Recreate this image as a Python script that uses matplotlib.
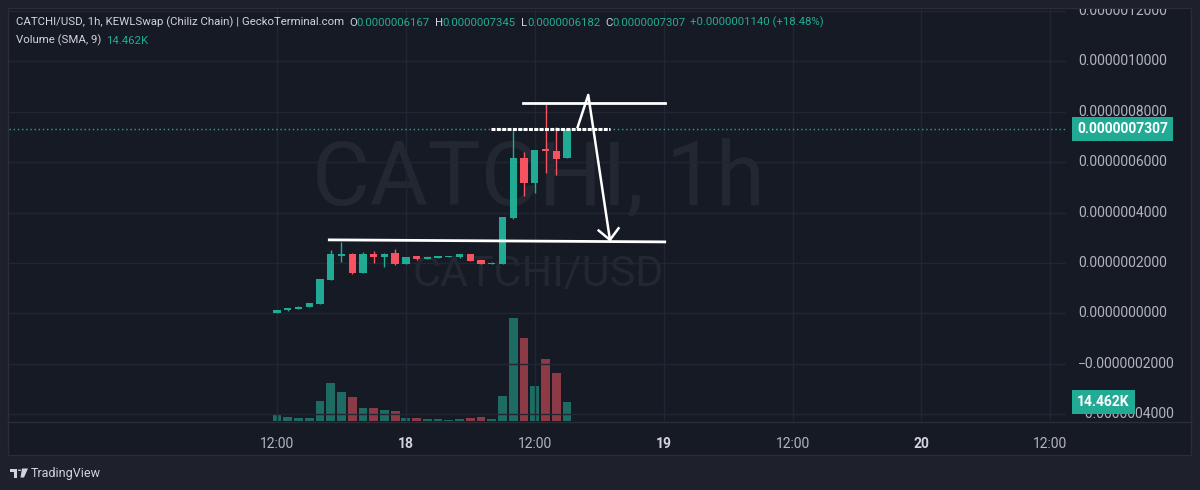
import matplotlib
matplotlib.use('Agg')
import matplotlib.pyplot as plt
from matplotlib.patches import Rectangle, Polygon, Circle
from matplotlib.lines import Line2D
from matplotlib.text import Annotation
from matplotlib.transforms import blended_transform_factory

# hourly candles starting 17th 12:00, prices in units of 1e-7
opens = [0.02, 0.12, 0.18, 0.26, 0.38, 1.33, 2.29, 2.36, 1.62, 2.36,
         2.23, 2.39, 1.96, 2.28, 2.17, 2.20, 2.24, 2.23, 2.36, 2.12,
         1.96, 1.96, 3.78, 6.16, 5.19, 6.52, 6.46, 6.167]
highs = [0.15, 0.22, 0.28, 0.42, 1.38, 2.52, 2.83, 2.38, 2.45, 2.49,
         2.38, 2.55, 2.26, 2.29, 2.26, 2.29, 2.29, 2.37, 2.37, 2.13,
         2.03, 3.83, 7.28, 6.42, 6.50, 8.30, 7.41, 7.345]
lows = [0.01, 0.11, 0.17, 0.25, 0.37, 1.31, 2.05, 1.55, 1.60, 2.02,
        1.86, 1.94, 1.95, 2.14, 2.16, 2.19, 2.23, 2.22, 2.09, 1.95,
        1.95, 1.95, 3.76, 4.66, 4.79, 5.59, 5.50, 6.167]
closes = [0.14, 0.20, 0.27, 0.40, 1.36, 2.36, 2.31, 1.59, 2.36, 2.23,
          2.36, 1.96, 2.25, 2.15, 2.25, 2.28, 2.28, 2.36, 2.10, 1.96,
          2.02, 3.82, 6.16, 5.19, 6.49, 6.44, 6.13, 7.307]
volumes_k = [5.2, 3.4, 2.6, 2.6, 15.8, 29.2, 22.4, 18.9, 9.8, 9.8,
             8.5, 7.7, 2.6, 2.1, 1.5, 1.5, 1.1, 1.5, 2.6, 3.4,
             1.5, 19.6, 80.0, 64.5, 26.8, 47.7, 37.4, 14.462]

tick_hours = [0, 12, 24, 36, 48, 60, 72]
tick_labels = ['12:00', '18', '12:00', '19', '12:00', '20', '12:00']
price_ticks = [-4, -2, 0, 2, 4, 6, 8, 10, 12]

last_price = 7.307
last_volume_k = 14.462

# hand drawn levels, (hour, price)
support_x, support_y = [4.87, 36.1], [2.92, 2.84]
top_x, top_y = [22.9, 36.1], [8.37, 8.37]
mid_x, mid_y = [19.95, 31.05], [7.31, 7.31]
arrow_x, arrow_y = [27.99, 28.98, 31.0], [7.39, 8.67, 2.92]
head_x, head_y = [29.95, 31.0, 31.8], [3.29, 2.92, 3.38]

header = 'CATCHI/USD, 1h, KEWLSwap (Chiliz Chain) | GeckoTerminal.com'
ohlc_text = [('O', '0.0000006167'), ('H', '0.0000007345'),
             ('L', '0.0000006182'), ('C', '0.0000007307')]
change_text = '+0.0000001140 (+18.48%)'

OUTER = '#1e212b'
PANEL = '#161a25'
BORDER = '#2a2e39'
GRID = '#222632'
TEXT = '#b2b5be'
LABEL = '#d1d4dc'
UP = '#22ab94'
DOWN = '#f7525f'
UP_VOL = '#1d6b62'
DOWN_VOL = '#8c3a45'
WATER = '#232732'

plt.rcParams['font.family'] = ['Roboto', 'DejaVu Sans']

W, H = 1200, 490
fig = plt.figure(figsize=(12, 4.9), dpi=100, facecolor=OUTER)


def rect(x0, y0, x1, y1):
    return [x0 / W, 1 - y1 / H, (x1 - x0) / W, (y1 - y0) / H]


def fpt(x, y):
    return (x / W, 1 - y / H)


# panel and separators
fig.add_artist(Rectangle(fpt(8, 455), 1183 / W, 447 / H, transform=fig.transFigure,
                         facecolor=PANEL, edgecolor=BORDER, lw=1, zorder=-5))
fig.add_artist(Line2D([8 / W, 1191 / W], [1 - 421.5 / H] * 2, transform=fig.transFigure,
                      color=BORDER, lw=1))

scale = 1e-7
hours = list(range(len(opens)))
xlim = (-24.95, 73.46)
ylim = (-4.266 * scale, 12.08 * scale)

# volume pane (underneath)
axv = fig.add_axes(rect(9, 9, 1066, 421))
axv.set_facecolor(PANEL)
vol_colors = [UP_VOL if c >= o else DOWN_VOL for o, c in zip(opens, closes)]
axv.bar(hours, [v * 1000 for v in volumes_k], width=0.82, color=vol_colors, lw=0)
axv.set_xlim(*xlim)
axv.set_ylim(0, 318.6e3)
axv.axis('off')
axv.text(0.501, 0.524, 'CATCHI, 1h', transform=axv.transAxes, ha='center',
         va='baseline', fontsize=64, color=WATER, zorder=0)
axv.text(0.501, 0.328, 'CATCHI/USD', transform=axv.transAxes, ha='center',
         va='baseline', fontsize=31, color=WATER, zorder=0)

# price pane
ax = fig.add_axes(rect(9, 9, 1066, 421))
ax.patch.set_visible(False)
ax.set_xlim(*xlim)
ax.set_ylim(*ylim)
for s in ax.spines.values():
    s.set_visible(False)
ax.set_xticks([])
ax.set_yticks([])
for t in tick_hours:
    ax.axvline(t, color=GRID, lw=1, zorder=0)
for p in price_ticks:
    ax.axhline(p * scale, color=GRID, lw=1, zorder=0)

colors = [UP if c >= o else DOWN for o, c in zip(opens, closes)]
ax.vlines(hours, [l * scale for l in lows], [h * scale for h in highs],
          colors=colors, lw=1, zorder=2)
bottoms = [min(o, c) * scale for o, c in zip(opens, closes)]
heights = [max(abs(c - o), 0.05) * scale for o, c in zip(opens, closes)]
ax.bar(hours, heights, bottom=bottoms, width=0.68, color=colors, lw=0, zorder=3)

ax.axhline(last_price * scale, color=UP, lw=1, ls=(0, (1, 2)), zorder=1)

# drawn levels
ax.plot(support_x, [v * scale for v in support_y], color='white', lw=2, zorder=4)
ax.plot(top_x, [v * scale for v in top_y], color='white', lw=2, zorder=4)
ax.plot(mid_x, [v * scale for v in mid_y], color='white', lw=2.2,
        ls=(0, (1.3, 0.45)), zorder=4)
ax.plot(arrow_x, [v * scale for v in arrow_y], color='white', lw=1.8, zorder=4)
ax.plot(head_x, [v * scale for v in head_y], color='white', lw=1.8, zorder=4)

# price scale
axp = fig.add_axes(rect(1066, 9, 1190, 421))
axp.set_facecolor(PANEL)
axp.set_ylim(*ylim)
axp.axis('off')
bt = blended_transform_factory(axp.transAxes, axp.transData)
for p in price_ticks:
    lab = f'{p * scale:.10f}'.replace('-', '\u2212')
    axp.text(0.097, p * scale, lab, transform=bt, va='center', ha='left',
             fontsize=10, color=TEXT, clip_on=True)
axp.text(0.09, last_price * scale, f'{last_price * scale:.10f}', transform=bt,
         va='center', ha='left', fontsize=10, color='white', weight='bold',
         bbox=dict(boxstyle='square,pad=0.35', fc=UP, ec='none'))
bv = blended_transform_factory(axp.transAxes, axv.transData)
axp.text(0.09, last_volume_k * 1000, f'{last_volume_k}K', transform=bv,
         va='center', ha='left', fontsize=10, color='white', weight='bold',
         bbox=dict(boxstyle='square,pad=0.35', fc=UP, ec='none'))

# time scale
axt = fig.add_axes(rect(9, 421.5, 1066, 455))
axt.patch.set_visible(False)
axt.set_xlim(*xlim)
for s in axt.spines.values():
    s.set_visible(False)
axt.set_yticks([])
axt.set_xticks(tick_hours)
axt.set_xticklabels(tick_labels)
axt.tick_params(axis='x', length=0, top=False, bottom=False, labeltop=True,
                labelbottom=False, pad=-21, labelsize=10, labelcolor=TEXT)
for lab in axt.get_xticklabels():
    if ':' not in lab.get_text():
        lab.set_fontweight('bold')
        lab.set_color(LABEL)

# header legend
def chain(prev, s, color, gap):
    a = Annotation(s, xy=(1, 0), xycoords=prev, xytext=(gap, 0),
                   textcoords='offset points', ha='left', va='bottom',
                   fontsize=8.2, color=color)
    fig.add_artist(a)
    return a


t = fig.text(16 / W, 1 - 22 / H, header, ha='left', va='center',
             fontsize=8.2, color=LABEL)
for letter, val in ohlc_text:
    t = chain(t, letter, LABEL, 3.5)
    t = chain(t, val, UP, 0)
chain(t, change_text, UP, 3.5)

t2 = fig.text(16 / W, 1 - 40 / H, 'Volume (SMA, 9)', ha='left', va='center',
              fontsize=8.2, color=LABEL)
chain(t2, f'{last_volume_k}K', UP, 3.5)

# TradingView logo
fig.add_artist(Polygon([fpt(10, 468.5), fpt(17, 468.5), fpt(17, 477.5), fpt(13.5, 477.5),
                        fpt(13.5, 471.5), fpt(10, 471.5)], closed=True,
                       transform=fig.transFigure, fc=LABEL, ec='none'))
fig.add_artist(Circle(fpt(19.5, 470.2), 1.7 / W, transform=fig.transFigure,
                      fc=LABEL, ec='none'))
fig.add_artist(Polygon([fpt(22, 468.5), fpt(28, 468.5), fpt(24, 477.5), fpt(20.5, 477.5)],
                       closed=True, transform=fig.transFigure, fc=LABEL, ec='none'))
fig.text(31 / W, 1 - 473 / H, 'TradingView', ha='left', va='center',
         fontsize=9, color=LABEL)

fig.savefig('out.png', dpi=100, facecolor=OUTER)
